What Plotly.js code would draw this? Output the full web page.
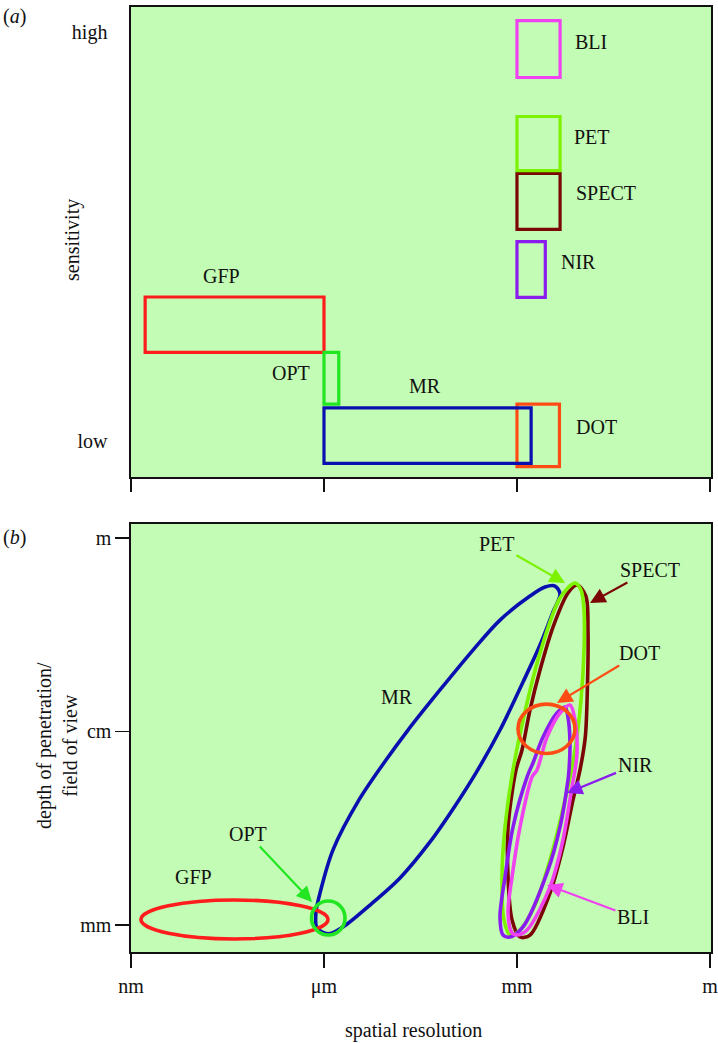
<!DOCTYPE html>
<html><head><meta charset="utf-8">
<script src="https://cdn.plot.ly/plotly-3.0.1.min.js"></script>
<style>html,body{margin:0;padding:0;background:#fff}#chart{width:718px;height:1043px}</style>
</head><body><div id="chart"></div>
<script>
// ---------- colours per technique ----------
const techColor = {
  GFP: '#ff1c1c', OPT: '#22e622', MR: '#0a10b0', DOT: '#ff4c14',
  NIR: '#8a1cf0', SPECT: '#7a0606', PET: '#7cf200', BLI: '#f042f0'
};

// ---------- panel (a): sensitivity vs spatial resolution (x = log10 metres) ----------
const boxTech    = ['DOT', 'MR', 'GFP', 'OPT', 'NIR', 'SPECT', 'PET', 'BLI'];
const boxResMin  = [-3.00, -6.00, -8.78, -6.00, -3.00, -3.00, -3.00, -3.00];
const boxResMax  = [-2.34, -2.78, -6.00, -5.77, -2.56, -2.33, -2.33, -2.33];
const boxSensMin = [0.22, 0.29, 2.65, 1.55, 3.82, 5.27, 6.52, 8.50];
const boxSensMax = [1.55, 1.47, 3.83, 2.65, 5.01, 6.46, 7.67, 9.71];
const boxLabelX  = [-1.77, -4.43, -7.60, -6.51, -2.05, -1.62, -1.83, -1.85];
const boxLabelY  = [1.06, 1.94, 4.28, 2.21, 4.57, 6.04, 7.23, 9.26];

const sensTickVals = [9.47, 0.77];
const sensTickText = ['high', 'low'];

// ---------- panel (b): depth of penetration vs spatial resolution ----------
const resTickVals = [-9, -6, -3, 0];
const resTickText = ['nm', 'μm', 'mm', 'm'];
const depthTickVals = [0, 1, 2];
const depthTickText = ['mm', 'cm', 'm'];

// axis-aligned ovals (bounding boxes)
const ovalTech = ['GFP', 'OPT', 'DOT'];
const ovalX0 = [-8.845, -6.194, -2.984];
const ovalX1 = [-5.938, -5.673, -2.098];
const ovalY0 = [-0.072, -0.052, 0.886];
const ovalY1 = [0.129, 0.124, 1.141];

// free-form outlines
const MR_x = [-5.938,-6.109,-6.124,-6.062,-5.860,-5.456,-5.036,-4.694,-4.197,-3.684,-3.264,-2.798,-2.564,-2.409,-2.331,-2.440,-2.642,-2.906,-3.264,-3.621,-3.963,-4.352,-4.818,-5.285,-5.704];
const MR_y = [-0.046,-0.015,0.067,0.165,0.388,0.646,0.852,1.007,1.214,1.420,1.575,1.699,1.746,1.751,1.710,1.617,1.446,1.255,1.007,0.795,0.615,0.429,0.243,0.103,-0.010];
const SPECT_x = [-2.067,-1.930,-1.896,-1.905,-1.938,-2.020,-2.129,-2.285,-2.487,-2.798,-2.953,-3.077,-3.139,-3.139,-3.015,-2.922,-2.798,-2.642,-2.440,-2.207];
const SPECT_y = [1.756,1.700,1.520,1.229,0.971,0.801,0.646,0.403,0.165,-0.052,-0.062,0.026,0.248,0.506,0.801,0.904,1.110,1.317,1.539,1.715];
const PET_x = [-2.098,-2.331,-2.642,-2.844,-3.062,-3.186,-3.233,-3.202,-3.108,-2.953,-2.720,-2.487,-2.253,-2.098,-2.005,-1.958,-1.958,-2.005];
const PET_y = [1.766,1.689,1.405,1.147,0.801,0.506,0.248,0.026,-0.052,-0.026,0.103,0.336,0.646,0.904,1.162,1.420,1.627,1.730];
const NIR_x = [-2.253,-2.378,-2.595,-2.751,-2.844,-3.062,-3.186,-3.264,-3.217,-3.108,-2.906,-2.533,-2.331,-2.207,-2.191,-2.176,-2.207];
const NIR_y = [1.126,1.095,0.971,0.837,0.764,0.506,0.248,0.041,-0.052,-0.062,-0.010,0.269,0.506,0.749,0.801,0.940,1.074];
const BLI_x = [-2.176,-2.331,-2.533,-2.689,-2.766,-2.953,-3.077,-3.139,-3.077,-3.000,-2.844,-2.487,-2.285,-2.145,-2.098,-2.067,-2.098];
const BLI_y = [1.136,1.095,0.971,0.801,0.764,0.506,0.248,0.062,-0.041,-0.052,-0.026,0.196,0.439,0.713,0.801,0.888,1.059];

const outlineTech = ['MR', 'SPECT', 'PET', 'NIR', 'BLI'];
const outlineX = [MR_x, SPECT_x, PET_x, NIR_x, BLI_x];
const outlineY = [MR_y, SPECT_y, PET_y, NIR_y, BLI_y];

// labels in panel (b): arrows point from label to outline
const arrowTech  = ['PET', 'SPECT', 'DOT', 'NIR', 'BLI', 'OPT'];
const arrowLabX  = [-3.311, -0.932, -1.088, -1.165, -1.197, -7.181];
const arrowLabY  = [1.968, 1.834, 1.405, 0.826, 0.041, 0.470];
const arrowHeadX = [-2.253, -1.865, -2.378, -2.222, -2.533, -6.186];
const arrowHeadY = [1.766, 1.663, 1.147, 0.682, 0.207, 0.119];
const plainTech  = ['MR', 'GFP'];
const plainLabX  = [-4.865, -8.036];
const plainLabY  = [1.178, 0.248];

// ---------- build ----------
const FONT = "'Liberation Serif', 'Times New Roman', serif";
const W = 718, H = 1043;
const px = v => v / W, py = v => 1 - v / H;
const txtFont = {family: FONT, size: 20, color: '#111'};

const traces = [];
outlineTech.forEach((t, i) => {
  traces.push({
    type: 'scatter', mode: 'lines', name: t,
    x: outlineX[i].concat([outlineX[i][0]]),
    y: outlineY[i].concat([outlineY[i][0]]),
    xaxis: 'x2', yaxis: 'y2',
    line: {color: techColor[t], width: 3.6, shape: 'spline', smoothing: 0.9},
    hoverinfo: 'skip', showlegend: false
  });
});

const shapes = [];
boxTech.forEach((t, i) => {
  shapes.push({type: 'rect', xref: 'x', yref: 'y',
    x0: boxResMin[i], x1: boxResMax[i], y0: boxSensMin[i], y1: boxSensMax[i],
    line: {color: techColor[t], width: 3.2}, fillcolor: 'rgba(0,0,0,0)'});
});
ovalTech.forEach((t, i) => {
  shapes.push({type: 'circle', xref: 'x2', yref: 'y2',
    x0: ovalX0[i], x1: ovalX1[i], y0: ovalY0[i], y1: ovalY1[i],
    line: {color: techColor[t], width: 3.6}, fillcolor: 'rgba(0,0,0,0)'});
});

const annotations = [];
boxTech.forEach((t, i) => {
  annotations.push({xref: 'x', yref: 'y', x: boxLabelX[i], y: boxLabelY[i],
    xanchor: 'center', yanchor: 'middle',
    text: t, showarrow: false, font: txtFont});
});
arrowTech.forEach((t, i) => {
  annotations.push({xref: 'x2', yref: 'y2', x: arrowHeadX[i], y: arrowHeadY[i],
    axref: 'x2', ayref: 'y2', ax: arrowLabX[i], ay: arrowLabY[i],
    text: t, showarrow: true, arrowhead: 2, arrowsize: 1.4, arrowwidth: 2.2,
    arrowcolor: techColor[t], standoff: 0, startstandoff: 0, font: txtFont});
});
plainTech.forEach((t, i) => {
  annotations.push({xref: 'x2', yref: 'y2', x: plainLabX[i], y: plainLabY[i],
    xanchor: 'center', yanchor: 'middle',
    text: t, showarrow: false, font: txtFont});
});
// panel letters and axis titles
const paperNote = (x, y, text, extra) => Object.assign({xref: 'paper', yref: 'paper',
  x: px(x), y: py(y), xanchor: 'center', yanchor: 'middle', text: text,
  showarrow: false, font: txtFont}, extra || {});
annotations.push(paperNote(14, 16, '(<i>a</i>)'));
annotations.push(paperNote(14, 537, '(<i>b</i>)'));
annotations.push(paperNote(72, 240, 'sensitivity', {textangle: -90}));
annotations.push(paperNote(57, 745, 'depth of penetration/<br>field of view', {textangle: -90}));
annotations.push(paperNote(413, 1030, 'spatial resolution'));

const axisCommon = {
  showline: true, mirror: true, linecolor: '#111', linewidth: 1.6,
  showgrid: false, zeroline: false, fixedrange: true,
  tickfont: txtFont, tickcolor: '#111', tickwidth: 1.6
};

const layout = {
  width: W, height: H,
  margin: {l: 0, r: 0, t: 0, b: 0},
  paper_bgcolor: '#ffffff', plot_bgcolor: '#c3fcb4',
  showlegend: false,
  xaxis: Object.assign({}, axisCommon, {
    domain: [px(131), px(711)], anchor: 'y', range: [-9, 0.016],
    tickmode: 'array', tickvals: resTickVals, showticklabels: false,
    ticks: 'outside', ticklen: 13
  }),
  yaxis: Object.assign({}, axisCommon, {
    domain: [py(477), py(7)], anchor: 'x', range: [0, 10],
    tickmode: 'array', tickvals: sensTickVals, ticktext: sensTickText,
    ticks: '', ticklabelstandoff: 18
  }),
  xaxis2: Object.assign({}, axisCommon, {
    domain: [px(131), px(711)], anchor: 'y2', range: [-9, 0.016],
    tickmode: 'array', tickvals: resTickVals, ticktext: resTickText,
    ticks: 'outside', ticklen: 14, ticklabelstandoff: 1, ticklabeloverflow: 'allow'
  }),
  yaxis2: Object.assign({}, axisCommon, {
    domain: [py(952), py(524)], anchor: 'x2', range: [-0.1395, 2.0713],
    tickmode: 'array', tickvals: depthTickVals, ticktext: depthTickText,
    ticks: 'outside', ticklen: 14
  }),
  shapes: shapes,
  annotations: annotations
};

Plotly.newPlot('chart', traces, layout, {displayModeBar: false, staticPlot: true});
</script>
</body></html>
